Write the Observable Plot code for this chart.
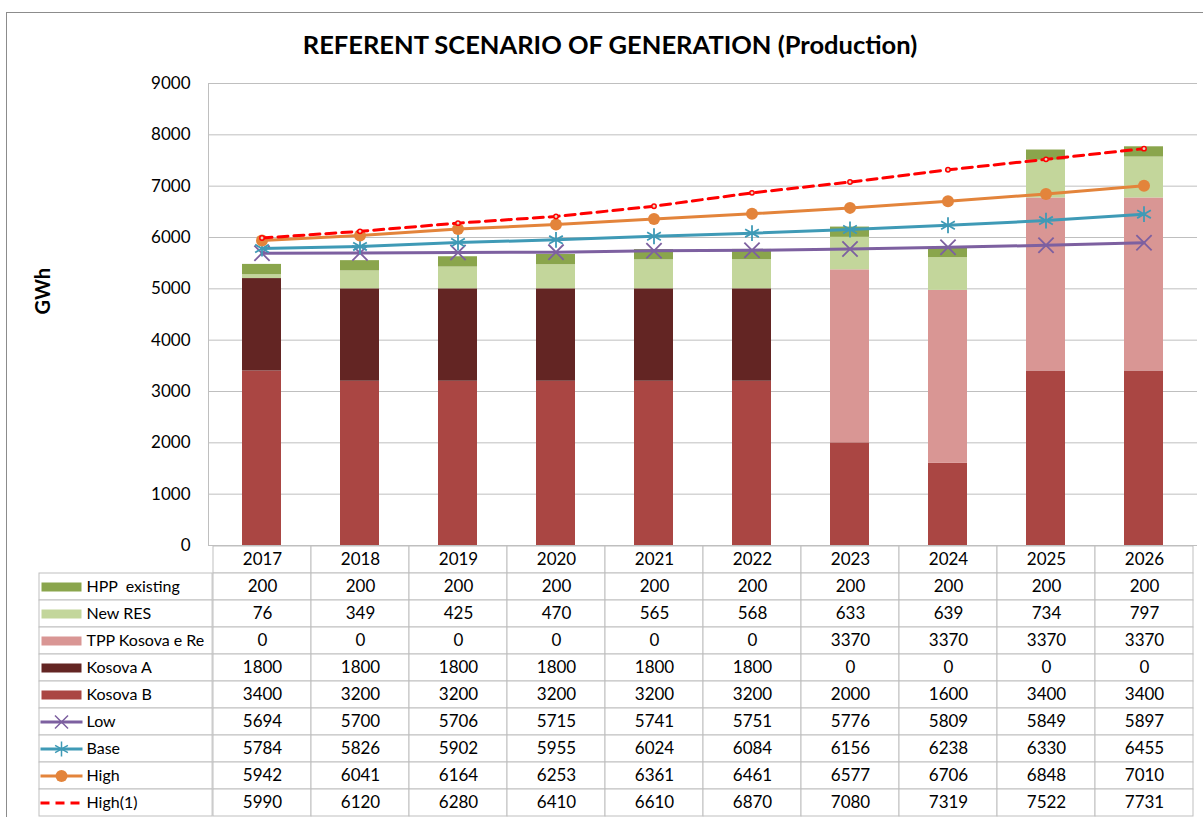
<!DOCTYPE html>
<html><head><meta charset="utf-8">
<script src="https://cdn.jsdelivr.net/npm/d3@7"></script>
<script src="https://cdn.jsdelivr.net/npm/@observablehq/plot@0.6"></script>
<style>
body{margin:0;background:#fff;font-family:Lato,"Open Sans",sans-serif;}
#wrap{position:relative;width:1203px;height:817px;overflow:hidden;background:#fff;}
#border{position:absolute;left:6px;top:12px;width:1300px;height:900px;border-left:1.5px solid #8c8c8c;border-top:1.5px solid #8c8c8c;}
#title{position:absolute;left:0;top:29px;width:1220px;text-align:center;font-weight:bold;font-size:25.5px;line-height:30px;color:#000;}
#chart{position:absolute;left:0;top:0;}
#table{position:absolute;left:0;top:545px;}
svg text{white-space:pre;}
</style></head>
<body><div id="wrap"><div id="border"></div><div id="title">REFERENT SCENARIO OF GENERATION (Production)</div><div id="chart"></div><div id="table"></div></div>
<script>
// ---- data ----
const years = ["2017","2018","2019","2020","2021","2022","2023","2024","2025","2026"];
const hppExisting = [200,200,200,200,200,200,200,200,200,200];
const newRES = [76,349,425,470,565,568,633,639,734,797];
const tppKosovaERe = [0,0,0,0,0,0,3370,3370,3370,3370];
const kosovaA = [1800,1800,1800,1800,1800,1800,0,0,0,0];
const kosovaB = [3400,3200,3200,3200,3200,3200,2000,1600,3400,3400];
const low = [5694,5700,5706,5715,5741,5751,5776,5809,5849,5897];
const base = [5784,5826,5902,5955,6024,6084,6156,6238,6330,6455];
const high = [5942,6041,6164,6253,6361,6461,6577,6706,6848,7010];
const high1 = [5990,6120,6280,6410,6610,6870,7080,7319,7522,7731];
const yTicks = [0,1000,2000,3000,4000,5000,6000,7000,8000,9000];

const seriesNames = ["HPP  existing","New RES","TPP Kosova e Re","Kosova A","Kosova B","Low","Base","High","High(1)"];
const seriesColors = ["#8aa54c","#c3d69b","#d99694","#632523","#aa4643","#7d60a0","#3f9ab6","#e3843b","#ff0000"];
const seriesValues = [hppExisting,newRES,tppKosovaERe,kosovaA,kosovaB,low,base,high,high1];
const barNames = seriesNames.slice(0,5);
const stackOrder = ["Kosova B","Kosova A","TPP Kosova e Re","New RES","HPP  existing"];

const valuesOf = Object.fromEntries(seriesNames.map((n,i)=>[n, seriesValues[i]]));
const barData = stackOrder.flatMap(n => years.map((y,i)=>({year:y, series:n, value:valuesOf[n][i]})));
const seriesData = n => years.map((y,i)=>({year:y, series:n, value:valuesOf[n][i]}));

const W = 1203, ML = 208, MR = 6;
const color = {domain: seriesNames, range: seriesColors};
const font = "Lato, 'Open Sans', sans-serif";
const FS = 17;

const chart = Plot.plot({
  width: W, height: 546,
  marginTop: 83, marginBottom: 1, marginLeft: ML, marginRight: MR,
  style: {fontFamily: font, fontSize: FS + "px", color: "#000", background: "transparent", overflow: "visible"},
  x: {type: "band", domain: years, paddingInner: 0.6, paddingOuter: 0.3, axis: null},
  y: {domain: [0, 9000]},
  color,
  marks: [
    Plot.gridY(yTicks, {stroke: "#bfbfbf", strokeOpacity: 1}),
    Plot.axisY(yTicks, {tickSize: 0, tickPadding: 18, tickFormat: d => String(d), fontSize: FS, label: null}),
    Plot.frame({anchor: "left", stroke: "#bfbfbf"}),
    Plot.barY(barData, {x: "year", y: "value", fill: "series", order: stackOrder}),
    Plot.line(seriesData("Low"), {x: "year", y: "value", stroke: "series", strokeWidth: 3}),
    Plot.dot(seriesData("Low"), {x: "year", y: "value", stroke: "series", symbol: "times", r: 7, strokeWidth: 1.8}),
    Plot.line(seriesData("Base"), {x: "year", y: "value", stroke: "series", strokeWidth: 3}),
    Plot.dot(seriesData("Base"), {x: "year", y: "value", stroke: "series", symbol: "asterisk", r: 7.5, strokeWidth: 1.8}),
    Plot.line(seriesData("High"), {x: "year", y: "value", stroke: "series", strokeWidth: 3}),
    Plot.dot(seriesData("High"), {x: "year", y: "value", fill: "series", symbol: "circle", r: 6}),
    Plot.line(seriesData("High(1)"), {x: "year", y: "value", stroke: "series", strokeWidth: 3, strokeDasharray: "10,6"}),
    Plot.dot(seriesData("High(1)"), {x: "year", y: "value", stroke: "series", fill: "#e6d6c0", r: 2.2, strokeWidth: 1.5}),
    Plot.text(["GWh"], {frameAnchor: "left", dx: -165, rotate: -90, fontWeight: "bold", fontSize: 20, text: d => d})
  ]
});
document.getElementById("chart").appendChild(chart);

// ---- table ----
const HEADER = "header";
const step = (W - ML - MR) / years.length;
const cells = seriesNames.flatMap(n => years.map((y,i)=>({row:n, year:y, value:valuesOf[n][i]})));
const rectSymbol = {draw(ctx){ ctx.moveTo(-20,-4.5); ctx.lineTo(20,-4.5); ctx.lineTo(20,4.5); ctx.lineTo(-20,4.5); ctx.closePath(); }};
const segSymbol = {draw(ctx){ ctx.moveTo(-21,0); ctx.lineTo(21,0); }};
const swX = -147;

const table = Plot.plot({
  width: W, height: 272,
  marginTop: 0, marginBottom: 1, marginLeft: ML, marginRight: MR,
  style: {fontFamily: font, fontSize: FS + "px", color: "#000", background: "transparent", overflow: "visible"},
  x: {type: "band", domain: years, padding: 0, axis: null},
  y: {type: "band", domain: [HEADER, ...seriesNames], padding: 0, axis: null},
  color,
  marks: [
    Plot.cell(years, {x: d => d, y: () => HEADER, fill: "white", stroke: "#bfbfbf"}),
    Plot.cell(cells, {x: "year", y: "row", fill: "white", stroke: "#bfbfbf"}),
    Plot.cell(seriesNames, {x: () => years[0], y: d => d, fill: "white", stroke: "#bfbfbf", insetLeft: -(ML - 34), insetRight: step}),
    Plot.text(years, {x: d => d, y: () => HEADER, text: d => d, fontSize: FS}),
    Plot.text(cells, {x: "year", y: "row", text: d => String(d.value), fontSize: FS}),
    Plot.text(seriesNames, {y: d => d, frameAnchor: "left", dx: -122, textAnchor: "start", text: d => d, fontSize: 16}),
    Plot.dot(barNames, {y: d => d, frameAnchor: "left", dx: swX, symbol: rectSymbol, fill: d => d}),
    Plot.dot(["Low","Base","High"], {y: d => d, frameAnchor: "left", dx: swX, symbol: segSymbol, stroke: d => d, strokeWidth: 3}),
    Plot.dot(["High(1)"], {y: d => d, frameAnchor: "left", dx: swX, symbol: segSymbol, stroke: d => d, strokeWidth: 3, strokeDasharray: "9,6"}),
    Plot.dot(["Low"], {y: d => d, frameAnchor: "left", dx: swX, symbol: "times", r: 6, stroke: d => d, strokeWidth: 1.5}),
    Plot.dot(["Base"], {y: d => d, frameAnchor: "left", dx: swX, symbol: "asterisk", r: 7, stroke: d => d, strokeWidth: 1.5}),
    Plot.dot(["High"], {y: d => d, frameAnchor: "left", dx: swX, symbol: "circle", r: 6, fill: d => d})
  ]
});
document.getElementById("table").appendChild(table);
</script>
</body></html>
